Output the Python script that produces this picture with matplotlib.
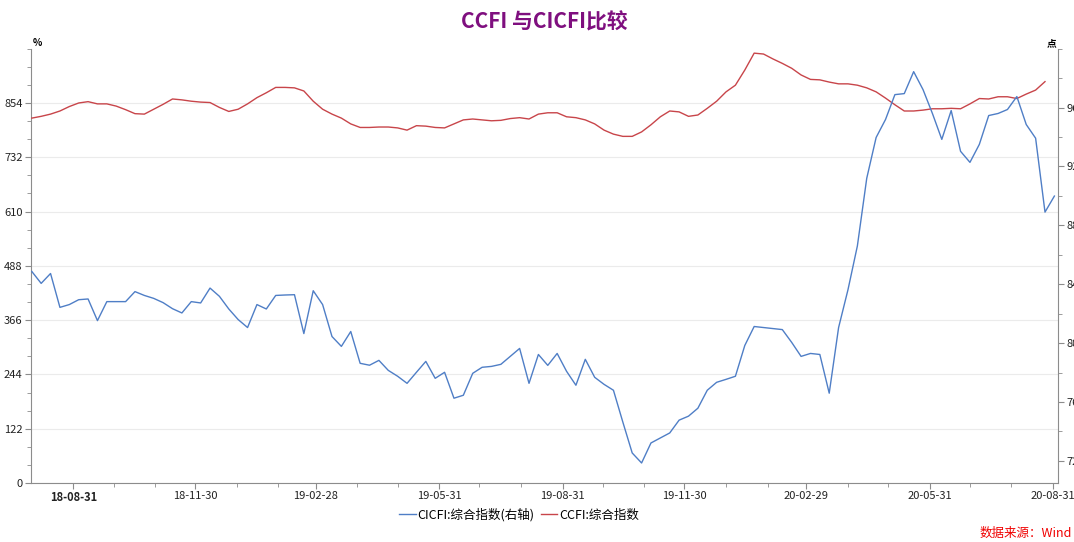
import pandas as pd
import matplotlib
matplotlib.use("Agg")
import matplotlib.pyplot as plt
import matplotlib.dates as mdates
from matplotlib.ticker import MultipleLocator, FixedLocator
from matplotlib.lines import Line2D

plt.rcParams['font.family'] = ['Noto Sans CJK SC', 'DejaVu Sans']

# weekly observations
dates = pd.date_range('2018-07-31', periods=110, freq='7D')

# CICFI composite index (right axis)
cicfi = [
    848.7, 840.6, 847.3, 824.3, 826.2, 829.5, 830.0, 815.3, 828.2, 828.2,
    828.2, 835.0, 832.4, 830.4, 827.5, 823.4, 820.5, 828.2, 827.3, 837.4,
    831.8, 823.2, 816.0, 810.6, 826.2, 823.2, 832.4, 832.7, 832.9, 806.5,
    835.6, 826.2, 804.5, 797.8, 807.9, 786.3, 785.0, 788.3, 781.5, 777.5,
    772.7, 780.2, 787.6, 776.1, 780.2, 762.6, 764.6, 779.5, 783.6, 784.2,
    785.6, 791.0, 796.4, 772.7, 792.3, 784.9, 793.0, 780.9, 771.4, 789.0,
    776.8, 772.0, 768.0, 746.4, 725.4, 718.6, 732.2, 735.6, 739.0, 747.7,
    750.4, 755.8, 768.0, 773.4, 775.4, 777.5, 798.4, 811.3, 810.6, 809.9,
    809.2, 800.5, 791.0, 793.0, 792.3, 766.0, 810.6, 836.3, 866.0, 912.0,
    939.7, 951.9, 968.8, 969.5, 984.4, 972.2, 956.0, 938.4, 958.0, 930.3,
    922.8, 935.0, 954.6, 956.0, 958.7, 967.5, 948.5, 939.2, 889.0, 899.9,
]

# CCFI composite index (left axis), one week shorter
ccfi = [
    820, 824, 829, 836, 846, 854, 857, 852, 852, 847,
    839, 830, 829, 840, 851, 863, 861, 858, 856, 855,
    844, 835, 840, 852, 866, 877, 889, 889, 888, 881,
    858, 840, 829, 820, 807, 799, 799, 800, 800, 798,
    793, 803, 802, 799, 798, 807, 816, 818, 816, 814,
    815, 819, 821, 818, 829, 832, 832, 823, 821, 816,
    807, 793, 784, 779, 779, 789, 805, 823, 836, 834,
    824, 827, 842, 858, 879, 894, 928, 966, 964, 953,
    943, 932, 917, 907, 906, 901, 897, 897, 894, 888,
    879, 865, 850, 836, 836, 838, 841, 841, 842, 841,
    852, 864, 863, 868, 868, 864, 874, 883, 902,
]

left_ticks = [0, 122, 244, 366, 488, 610, 732, 854]
right_ticks = [720, 760, 800, 840, 880, 920, 960]
x_ticks = ['2018-08-31', '2018-11-30', '2019-02-28', '2019-05-31', '2019-08-31',
           '2019-11-30', '2020-02-29', '2020-05-31', '2020-08-31']

blue = '#4F7EC6'
red = '#C8454A'
axis_col = '#8C8C8C'

fig = plt.figure(figsize=(10.74, 5.42), dpi=100)
ax = fig.add_axes([31 / 1074, 1 - 483 / 542, (1058 - 31) / 1074, (483 - 48.7) / 542])
ax2 = ax.twinx()

ax2.plot(dates, cicfi, color=blue, lw=1.0)
ax.plot(dates[:len(ccfi)], ccfi, color=red, lw=1.0, zorder=3)

ax.set_ylim(0, 976)
ax.yaxis.set_major_locator(FixedLocator(left_ticks))
ax.yaxis.set_minor_locator(MultipleLocator(122 / 3))
ax2.set_ylim(705, 1000)
ax2.yaxis.set_major_locator(FixedLocator(right_ticks))
ax2.yaxis.set_minor_locator(MultipleLocator(20))

# month-end minor ticks, quarter-end labels
month_ends = pd.date_range('2018-08-31', '2020-08-31', freq='ME')
ax.set_xlim(dates[0] - pd.Timedelta(hours=14), dates[-1] + pd.Timedelta(days=2.7))
ax.xaxis.set_major_locator(FixedLocator(mdates.date2num(pd.to_datetime(x_ticks))))
ax.xaxis.set_major_formatter(mdates.DateFormatter('%y-%m-%d'))
ax.xaxis.set_minor_locator(FixedLocator(mdates.date2num(month_ends)))

ax.grid(True, axis='y', color='#EBEBEB', lw=0.8)
ax.set_axisbelow(True)

for a in (ax, ax2):
    a.spines['top'].set_visible(False)
    for s in ('left', 'right', 'bottom'):
        a.spines[s].set_color(axis_col)
    a.tick_params(which='major', length=4, color=axis_col, labelsize=8, pad=2, labelcolor='#222222')
    a.tick_params(which='minor', length=3, color=axis_col)
ax.spines['right'].set_visible(False)
ax2.spines['left'].set_visible(False)
ax2.spines['bottom'].set_visible(False)
ax.tick_params(axis='x', pad=2)

labels = ax.get_xticklabels()
labels[0].set_fontweight('bold')

fig.text(544 / 1074, 1 - 22 / 542, 'CCFI 与CICFI比较', color='#7F0F7F', fontsize=15,
         fontweight='bold', ha='center', va='center')
fig.text(33 / 1074, 1 - 48 / 542, '%', fontsize=7, fontweight='bold', ha='left', va='bottom')
fig.text(1056 / 1074, 1 - 48 / 542, '点', fontsize=7, fontweight='bold', ha='right', va='bottom')

handles = [Line2D([], [], color=blue, lw=1.0), Line2D([], [], color=red, lw=1.0)]
fig.legend(handles, ['CICFI:综合指数(右轴)', 'CCFI:综合指数'], loc='center',
           bbox_to_anchor=(519 / 1074, 1 - 515 / 542), ncol=2, frameon=False,
           fontsize=9, handlelength=1.3, handletextpad=0.15, columnspacing=0.5)

fig.text(1072 / 1074, 1 - 533 / 542, '数据来源：Wind', color='#F00000', fontsize=9,
         style='italic', ha='right', va='center')

fig.savefig('out.png', dpi=100)
